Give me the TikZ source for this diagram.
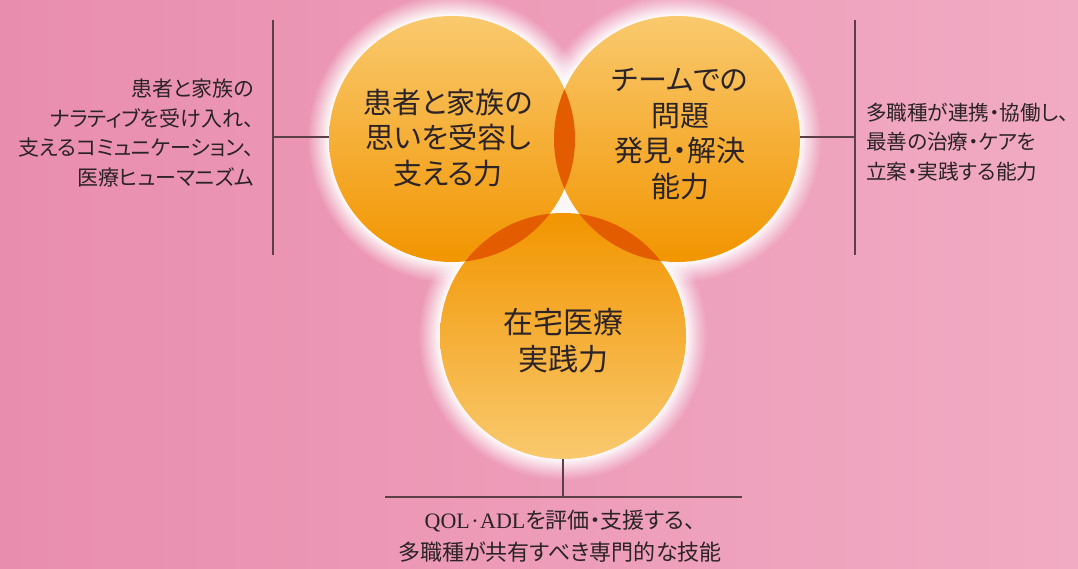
\documentclass[tikz,border=0pt]{standalone}
\usepackage{fontspec}
\newfontfamily\jp[RawFeature=+palt]{Noto Sans CJK JP}
\newfontfamily\lat{Liberation Serif}
\definecolor{bgl}{HTML}{E98DAE}
\definecolor{bgr}{HTML}{F1ABC3}
\definecolor{ylight}{HTML}{F9C96E}
\definecolor{org}{HTML}{F29500}
\definecolor{lens}{HTML}{E35C00}
\definecolor{linec}{HTML}{5B4047}
\definecolor{txt}{HTML}{2B2326}
\begin{document}
\begin{tikzpicture}[x=1pt,y=-1pt,
  conn/.style={draw=linec, line width=1.4pt},
  ring/.style={circle, minimum size=246pt, inner sep=0pt},
  ctext/.style={align=center, text=txt, inner sep=0pt, font=\jp\fontsize{29}{35.5}\selectfont},
  side/.style={text=txt, inner sep=0pt, font=\jp\fontsize{21}{29.5}\selectfont}]
\useasboundingbox (0,0) rectangle (1078,568);
\shade[left color=bgl, right color=bgr] (0,0) rectangle (1078,568);
% glow
\foreach \x/\y in {452/139,677/139,563/336}
  \foreach \d/\op in {16/0.0588,15/0.0625,14/0.0667,13/0.0714,12/0.0769,11/0.0833,10/0.0909,9/0.1,8/0.1111,7/0.125,6/0.1429,5/0.1667,4/0.2,3/0.25,2/0.3333,1/0.5}
    \fill[white, opacity=\op] (\x,\y) circle[radius={(123+1.3*\d)*1pt}];
% circles
\node[ring, top color=ylight, middle color=org, bottom color=org] (c1) at (452,139) {};
\node[ring, top color=ylight, middle color=org, bottom color=org] (c2) at (677,139) {};
\node[ring, top color=org, middle color=org!85!ylight, bottom color=ylight] (c3) at (563,336) {};
% lenses
\begin{scope}
  \clip (c1.center) circle[radius=123pt];
  \fill[lens] (c2.center) circle[radius=123pt];
  \fill[lens] (c3.center) circle[radius=123pt];
\end{scope}
\begin{scope}
  \clip (c2.center) circle[radius=123pt];
  \fill[lens] (c3.center) circle[radius=123pt];
\end{scope}
% connectors
\coordinate (lt) at (273,20);
\coordinate (lb) at (273,255);
\coordinate (lm) at (273,137);
\draw[conn] (lt) -- (lb);
\draw[conn] (lm) -- (lm -| c1.west);
\coordinate (rt) at (855,20);
\coordinate (rb) at (855,255);
\coordinate (rm) at (855,137);
\draw[conn] (rt) -- (rb);
\draw[conn] (rm) -- (rm -| c2.east);
\coordinate (bm) at (563,497);
\coordinate (bl) at (385,497);
\coordinate (br) at (742,497);
\draw[conn] (c3.south) -- (bm);
\draw[conn] (bl) -- (br);
% texts
\node[ctext] (t1) at (448,138) {患者と家族の\\思いを受容し\\支える力};
\node[ctext] (t2) at (680,134) {チームでの\\問題\\発見・解決\\能力};
\node[ctext, font=\jp\fontsize{30}{37}\selectfont] (t3) at (563,341) {在宅医療\\実践力};
\node[side, align=right, anchor=east] (lefttext) at (254,133) {患者と家族の\\ナラティブを受け入れ、\\支えるコミュニケーション、\\医療ヒューマニズム};
\node[side, align=left, anchor=west, font=\jp\fontsize{20.6}{29.5}\selectfont] (righttext) at (866,142) {多職種が連携・協働し、\\最善の治療・ケアを\\立案・実践する能力};
\node[side, align=center, font=\jp\fontsize{22}{32}\selectfont] (bottomtext) at (560,536) {{\lat QOL\hspace{1.5pt}·\hspace{1.5pt}ADL}を評価・支援する、\\多職種が共有すべき専門的な技能};
\end{tikzpicture}
\end{document}
